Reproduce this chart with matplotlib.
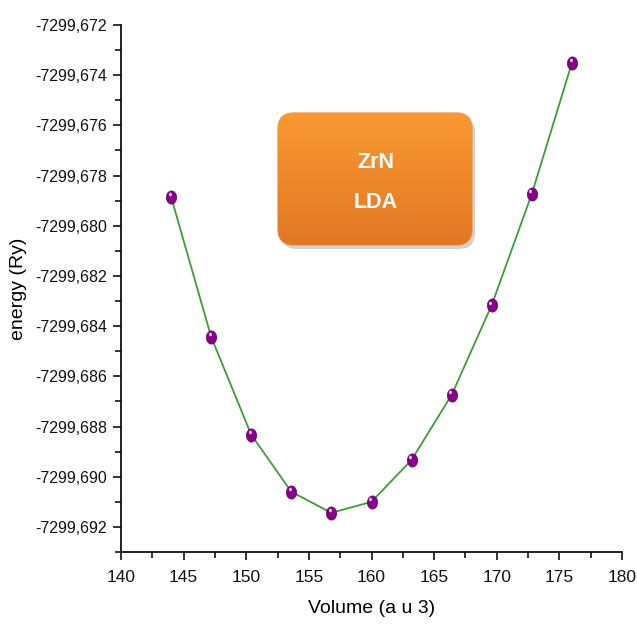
import matplotlib
matplotlib.use("Agg")
import matplotlib.pyplot as plt
import numpy as np
from matplotlib.ticker import FixedLocator, FuncFormatter, MultipleLocator
from matplotlib.patches import FancyBboxPatch
from matplotlib.path import Path
import matplotlib.transforms as mtransforms

FONT = ['Liberation Sans', 'DejaVu Sans']
plt.rcParams['font.family'] = FONT

volume = [144.0, 147.2, 150.4, 153.6, 156.8, 160.0, 163.2, 166.4, 169.6, 172.8, 176.0]
energy = [-7299.67885, -7299.68443, -7299.68833, -7299.69060, -7299.69144,
          -7299.69100, -7299.68933, -7299.68674, -7299.68316, -7299.67873, -7299.67351]
y_ticks = [-7299.692, -7299.690, -7299.688, -7299.686, -7299.684, -7299.682,
           -7299.680, -7299.678, -7299.676, -7299.674, -7299.672]
x_ticks = [140, 145, 150, 155, 160, 165, 170, 175, 180]
box_lines = ["ZrN", "LDA"]

W, H = 637, 635
fig = plt.figure(figsize=(W / 100, H / 100), dpi=100)
ax = fig.add_axes([121 / W, 1 - 552 / H, (622 - 121) / W, (552 - 25) / H])

uc = Path.unit_circle()
ellipse = Path(uc.vertices * np.array([0.78, 1.0]), uc.codes)
small = Path(uc.vertices * np.array([0.8, 1.0]), uc.codes)

ax.plot(volume, energy, color='#3f9b3a', lw=1.3, zorder=2)
ax.plot(volume, energy, linestyle='none', marker=ellipse, ms=9.5,
        mfc='#850085', mec='#6a006a', mew=0.5, zorder=3)
hl = mtransforms.offset_copy(ax.transData, fig=fig, x=-1.0, y=1.8, units='points')
ax.plot(volume, energy, linestyle='none', marker=small, ms=2.6,
        mfc='#f0c8f0', mec='none', transform=hl, zorder=4)

ax.set_xlim(140, 180)
ax.set_ylim(-7299.693, -7299.672)
ax.xaxis.set_major_locator(FixedLocator(x_ticks))
ax.xaxis.set_minor_locator(MultipleLocator(2.5))
ax.yaxis.set_major_locator(FixedLocator(y_ticks))
ax.yaxis.set_minor_locator(MultipleLocator(0.001))
ax.yaxis.set_major_formatter(FuncFormatter(lambda v, p: f"{v:.3f}".replace('.', ',')))
ax.xaxis.set_major_formatter(FuncFormatter(lambda v, p: f"{v:.0f}"))

for s in ['top', 'right']:
    ax.spines[s].set_visible(False)
for s in ['left', 'bottom']:
    ax.spines[s].set_linewidth(1.3)
    ax.spines[s].set_color('#111111')
ax.tick_params(which='major', length=6, width=1.2, labelsize=11.5, colors='#111111', pad=4)
ax.tick_params(which='minor', length=4, width=1.2, colors='#111111')
ax.tick_params(axis='x', labelsize=12.5, pad=7)

ax.set_xlabel("Volume (a u 3)", fontsize=14, labelpad=11)
ax.set_ylabel("energy (Ry)", fontsize=14, labelpad=6)

# overlay for annotation box (pixel coordinates)
ov = fig.add_axes([0, 0, 1, 1], zorder=5)
ov.set_xlim(0, W)
ov.set_ylim(H, 0)
ov.axis('off')
bx0, by0, bx1, by1 = 278, 113, 472, 245
r = 16
shadow = FancyBboxPatch((bx0 + 3, by0 + 4), bx1 - bx0, by1 - by0,
                        boxstyle=f"round,pad=0,rounding_size={r}",
                        fc='#9a9a9a', ec='none', alpha=0.45)
ov.add_patch(shadow)
box = FancyBboxPatch((bx0, by0), bx1 - bx0, by1 - by0,
                     boxstyle=f"round,pad=0,rounding_size={r}",
                     fc='none', ec='#f0a050', lw=1.0)
ov.add_patch(box)
grad = np.linspace(0, 1, 256)[:, None]
top = np.array([0.98, 0.60, 0.20])
bot = np.array([0.88, 0.47, 0.14])
img = top[None, None, :] * (1 - grad[..., None]) + bot[None, None, :] * grad[..., None]
img = np.repeat(img, 2, axis=1)
im = ov.imshow(img, extent=(bx0, bx1, by1, by0), aspect='auto', zorder=1)
im.set_clip_path(box)
ov.set_xlim(0, W)
ov.set_ylim(H, 0)
ov.text(376, 163, box_lines[0], color='white', fontsize=15.5, fontweight='bold',
        ha='center', va='center', zorder=3)
ov.text(376, 203, box_lines[1], color='white', fontsize=15.5, fontweight='bold',
        ha='center', va='center', zorder=3)

fig.savefig("out.png", dpi=100)
